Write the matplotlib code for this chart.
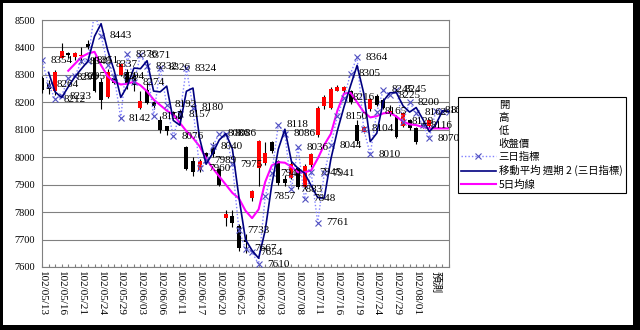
import matplotlib
matplotlib.use('Agg')
import matplotlib.pyplot as plt
from matplotlib.lines import Line2D
from matplotlib.patches import Rectangle
import numpy as np
import pandas as pd

categories = ['102/05/13', '102/05/14', '102/05/15', '102/05/16', '102/05/17', '102/05/20', '102/05/21',
              '102/05/22', '102/05/23', '102/05/24', '102/05/27', '102/05/28', '102/05/29', '102/05/30',
              '102/05/31', '102/06/03', '102/06/04', '102/06/05', '102/06/06', '102/06/07', '102/06/10',
              '102/06/11', '102/06/13', '102/06/14', '102/06/17', '102/06/18', '102/06/19', '102/06/20',
              '102/06/21', '102/06/24', '102/06/25', '102/06/26', '102/06/27', '102/06/28', '102/07/01',
              '102/07/02', '102/07/03', '102/07/04', '102/07/05', '102/07/08', '102/07/09', '102/07/10',
              '102/07/11', '102/07/12', '102/07/15', '102/07/16', '102/07/17', '102/07/18', '102/07/19',
              '102/07/22', '102/07/23', '102/07/24', '102/07/25', '102/07/26', '102/07/29', '102/07/30',
              '102/07/31', '102/08/01', '102/08/02', '102/08/05', '預測', '', '']

open_ = [8287, 8266, 8240, 8363, 8378, 8366, 8370, 8413, 8361, 8275, 8220, 8290, 8300, 8310, 8300,
         8180, 8245, 8200, 8135, 8112, 8165, 8170, 8039, 7985, 7955, 8015, 8032, 7956, 7780, 7787,
         7750, 7700, 7850, 7960, 7978, 8057, 7985, 7920, 7925, 7960, 7892, 7970, 8081, 8185, 8180,
         8243, 8240, 8240, 8118, 8093, 8175, 8223, 8210, 8160, 8148, 8115, 8136, 8106, 8120, 8112]
high = [8295, 8280, 8318, 8415, 8385, 8385, 8400, 8428, 8370, 8290, 8320, 8300, 8345, 8320, 8310,
        8240, 8270, 8210, 8150, 8115, 8170, 8175, 8042, 8000, 7995, 8020, 8055, 7960, 7808, 7808,
        7755, 7720, 7880, 8062, 8057, 8060, 7990, 7935, 7985, 7965, 7975, 8015, 8185, 8228, 8255,
        8262, 8260, 8245, 8135, 8115, 8215, 8230, 8215, 8190, 8155, 8165, 8140, 8110, 8125, 8140]
low = [8235, 8230, 8228, 8360, 8360, 8355, 8345, 8395, 8237, 8175, 8215, 8265, 8295, 8250, 8240,
       8175, 8195, 8175, 8090, 8080, 8150, 8130, 7955, 7930, 7945, 7995, 8000, 7895, 7748, 7745,
       7660, 7650, 7840, 7895, 7970, 8015, 7900, 7895, 7920, 7885, 7885, 7965, 8075, 8175, 8175,
       8240, 8235, 8195, 8050, 8090, 8170, 8185, 8175, 8150, 8070, 8110, 8100, 8050, 8105, 8108]
close = [8245, 8248, 8310, 8388, 8372, 8378, 8374, 8400, 8240, 8210, 8312, 8272, 8340, 8265, 8262,
         8205, 8198, 8185, 8100, 8095, 8155, 8140, 7956, 7945, 7985, 8000, 8013, 7900, 7792, 7762,
         7670, 7690, 7878, 8058, 8015, 8022, 7906, 7905, 7975, 7892, 7968, 8012, 8178, 8218, 8250,
         8257, 8256, 8200, 8058, 8110, 8212, 8190, 8180, 8170, 8075, 8160, 8106, 8057, 8110, 8136]

three_day = [8354, 8264, 8212, 8223, 8290, 8295, 8349, 8351, 8530, 8443, 8337, 8294, 8142, 8376,
             8274, 8371, 8332, 8150, 8326, 8192, 8076, 8157, 8324, 8180, 7960, 7989, 8040, 8086,
             8086, 7975, 7733, 7667, 7654, 7610, 7857, 7941, 8118, 8086, 7883, 8036, 7848, 7945,
             7761, 7941, 8044, 8150, 8216, 8305, 8364, 8104, 8010, 8165, 8245, 8225, 8245, 8129,
             8200, 8162, 8116, 8070, 8169, 8169, 8165]

ma5 = [np.nan] * 4 + [8315, 8340, 8365, 8378, 8384, 8335, 8295, 8275, 8265, 8268, 8275, 8262, 8240,
                      8210, 8190, 8170, 8155, 8125, 8095, 8070, 8040, 7995, 7960, 7930, 7900, 7870,
                      7850, 7805, 7778, 7810, 7910, 7970, 7982, 7980, 7965, 7945, 7945, 7952, 7995,
                      8045, 8085, 8170, 8232, 8235, 8200, 8165, 8145, 8150, 8160, 8162, 8148, 8130,
                      8120, 8117, 8110, 8105, 8105, 8105, 8105]

legend_labels = ['開', '高', '低', '收盤價', '三日指標', '移動平均 週期 2 (三日指標)', '5日均線']

W, H = 640, 330
fig = plt.figure(figsize=(W / 100, H / 100), dpi=100, facecolor='black')
fig.patches.append(Rectangle((3 / W, 5 / H), 630 / W, 322 / H, transform=fig.transFigure,
                             facecolor='white', edgecolor='none', zorder=-10))

ax = fig.add_axes([42 / W, 1 - 267 / H, (449 - 42) / W, (267 - 20) / H])
ax.set_facecolor('white')
grey = '#808080'
num_font = 'Liberation Serif'

# candles
o = np.array(open_, float); h = np.array(high, float); l = np.array(low, float); c = np.array(close, float)
idx = np.arange(len(o))
ax.vlines(idx, l, h, color='black', lw=0.8, zorder=3)
up = c >= o
ax.bar(idx[up], np.maximum(c[up] - o[up], 2), bottom=o[up], width=0.6, color='#FF0000', zorder=4)
ax.bar(idx[~up], np.maximum(o[~up] - c[~up], 2), bottom=c[~up], width=0.6, color='black', zorder=4)

# lines
xs = np.arange(len(three_day))
td = np.array(three_day, float)
ax.plot(xs, ma5, color='#FF00FF', lw=1.5, zorder=5)
ax.plot(xs, td, ls=(0, (1, 1.5)), color='#8080FF', lw=1.0, marker='x', ms=4, mec='#5050C0', mew=0.8, zorder=6)
ma2 = pd.Series(td).rolling(2).mean()
ax.plot(xs, ma2, color='#000080', lw=1.2, zorder=7)

for i, v in enumerate(three_day):
    if 7600 <= v <= 8500:
        ax.annotate(str(v), (i, v), xytext=(6, 0), textcoords='offset points', va='center', ha='left',
                    fontsize=8, family=num_font, color='black', zorder=8, annotation_clip=False)

ax.set_xlim(0, len(categories) - 1)
ax.set_ylim(7600, 8500)
ax.set_yticks(np.arange(7600, 8501, 100))
ax.set_yticklabels([str(t) for t in range(7600, 8501, 100)], fontsize=7.5, family=num_font)
ax.yaxis.grid(True, color=grey, lw=0.8, zorder=0)
ax.set_axisbelow(True)
ax.tick_params(axis='y', length=0, pad=5)

ax.set_xticks(np.arange(len(categories)))
ax.set_xticklabels([lab if i % 3 == 0 else '' for i, lab in enumerate(categories)],
                   rotation=-90, fontsize=8, family=[num_font, 'Noto Sans CJK TC'])
ax.tick_params(axis='x', direction='in', length=2.5, color=grey, pad=3)
for s in ax.spines.values():
    s.set_color(grey)
    s.set_linewidth(0.8)

handles = [Line2D([], [], color='none'), Line2D([], [], color='none'), Line2D([], [], color='none'),
           Line2D([], [], color='none'),
           Line2D([], [], ls=(0, (1, 1.5)), color='#8080FF', lw=1.0, marker='x', ms=4, mec='#5050C0', mew=0.8),
           Line2D([], [], color='#000080', lw=1.2),
           Line2D([], [], color='#FF00FF', lw=1.5)]
leg = fig.legend(handles, legend_labels, loc='upper left', bbox_to_anchor=(458 / W, 1 - 97 / H),
                 bbox_transform=fig.transFigure,
                 prop={'family': ['Noto Sans CJK TC', 'DejaVu Sans'], 'size': 7.5},
                 frameon=True, fancybox=False, edgecolor='black', framealpha=1, borderpad=0.3,
                 labelspacing=0.28, handlelength=3.3, handletextpad=0.3, borderaxespad=0)
leg.get_frame().set_linewidth(0.8)

fig.savefig('out.png', dpi=100, facecolor='black')
